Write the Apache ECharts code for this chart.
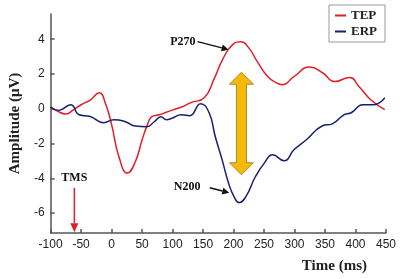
<!DOCTYPE html>
<html>
<head>
<meta charset="utf-8">
<script src="https://cdn.jsdelivr.net/npm/echarts@6/dist/echarts.min.js"></script>
<style>
html,body{margin:0;padding:0;background:#fff;}
#main{width:400px;height:279px;}
</style>
</head>
<body>
<div id="main"></div>
<script>
// TEP (red) curve, time in ms / amplitude in uV
var tepTime=[-100,-88,-75,-62,-50,-35,-20,-10,0,12,26,39,50,58,66,78,90,102,115,130,152,168,183,199,212,225,240,256,270,280,299,325,346,366,390,406,425,448];
var tepVal=[0.1,-0.15,-0.3,-0.05,0.23,0.5,0.92,0.3,-0.9,-2.75,-3.7,-3.05,-1.8,-1.0,-0.45,-0.35,-0.2,-0.05,0.1,0.35,0.63,1.7,2.9,3.7,3.85,3.5,2.65,1.85,1.5,1.38,1.85,2.4,2.07,1.56,1.8,1.27,0.52,-0.05];
// ERP (blue) curve
var erpTime=[-100,-87,-67,-53,-35,-13,4,23,39,58,70,81,90,99,114,128,146,160,170,181,192,201,209,220,236,251,264,283,299,319,346,362,381,393,412,430,448];
var erpVal=[0.1,-0.1,0.23,-0.35,-0.45,-0.8,-0.63,-0.75,-1.0,-1.03,-0.75,-0.46,-0.63,-0.55,-0.35,-0.4,0.29,-0.23,-1.6,-2.9,-4.3,-5.07,-5.4,-5.07,-3.9,-3.1,-2.65,-3.0,-2.36,-1.8,-0.98,-0.87,-0.35,-0.23,0.23,0.23,0.63];
var yTicks=[-6,-4,-2,0,2,4];

function pairs(t,v){
	var out=[];
	for(var i=0;i<t.length;i++){out.push([t[i],v[i]]);}
	return out;
}

var chart=echarts.init(document.getElementById('main'));
var serif='"Liberation Serif","DejaVu Serif",serif';
var sans='"Liberation Sans",Arial,sans-serif';

var option={
	animation:false,
	grid:{left:37,right:14,top:14,bottom:46},
	title:{text:'Time (ms)',right:28,bottom:0,textStyle:{fontFamily:serif,fontWeight:'bold',fontSize:15,color:'#222'}},
	legend:{
		orient:'vertical',right:15,top:5,
		data:['TEP','ERP'],
		icon:'rect',itemWidth:11,itemHeight:2,itemGap:3,
		padding:[4,8,4,6],
		borderColor:'#999',borderWidth:1,
		textStyle:{fontFamily:serif,fontWeight:'bold',fontSize:13,color:'#222'}
	},
	xAxis:{
		type:'value',min:-100,max:450,interval:50,
		axisLine:{onZero:false,lineStyle:{color:'#555',width:1.5}},
		axisTick:{inside:true,length:4,lineStyle:{color:'#555',width:1.5}},
		axisLabel:{fontFamily:sans,fontSize:12,color:'#222',margin:6},
		splitLine:{show:false}
	},
	yAxis:{
		type:'value',min:-7.15,max:5.45,
		name:'Amplitude (\u03bcV)',nameLocation:'middle',nameGap:19,
		nameTextStyle:{fontFamily:serif,fontWeight:'bold',fontSize:15,color:'#222'},
		axisLine:{show:true,onZero:false,lineStyle:{color:'#555',width:1.5}},
		axisTick:{show:true,inside:true,length:4,customValues:yTicks,lineStyle:{color:'#555',width:1.5}},
		axisLabel:{customValues:yTicks,fontFamily:sans,fontSize:12,color:'#222',margin:6},
		splitLine:{show:false}
	},
	series:[
		{name:'TEP',type:'line',data:pairs(tepTime,tepVal),smooth:0.5,showSymbol:false,
			lineStyle:{color:'#e01f26',width:1.5},itemStyle:{color:'#e01f26'}},
		{name:'ERP',type:'line',data:pairs(erpTime,erpVal),smooth:0.5,showSymbol:false,
			lineStyle:{color:'#17206e',width:1.5},itemStyle:{color:'#17206e'}}
	]
};
chart.setOption(option);

function px(t,v){return chart.convertToPixel({gridIndex:0},[t,v]);}

function arrow(a,b,color,w,hl,hw){
	var dx=b[0]-a[0],dy=b[1]-a[1],len=Math.sqrt(dx*dx+dy*dy);
	var ux=dx/len,uy=dy/len;
	var bx=b[0]-ux*hl,by=b[1]-uy*hl;
	return [
		{type:'line',shape:{x1:a[0],y1:a[1],x2:bx,y2:by},style:{stroke:color,lineWidth:w}},
		{type:'polygon',shape:{points:[[b[0],b[1]],[bx-uy*hw,by+ux*hw],[bx+uy*hw,by-ux*hw]]},style:{fill:color}}
	];
}

function doubleArrow(t,v1,v2){
	var p1=px(t,v1),p2=px(t,v2);
	var cx=p1[0],sw=5,hw=12,hl=12;
	var y1=p1[1],y2=p2[1];
	return {type:'polygon',shape:{points:[
		[cx,y1],[cx+hw,y1+hl],[cx+sw,y1+hl],[cx+sw,y2-hl],[cx+hw,y2-hl],
		[cx,y2],[cx-hw,y2-hl],[cx-sw,y2-hl],[cx-sw,y1+hl],[cx-hw,y1+hl]
	]},style:{fill:'#f7b908',stroke:'#a88a2a',lineWidth:1}};
}

function label(t,v,txt){
	var p=px(t,v);
	return {type:'text',x:p[0],y:p[1],style:{text:txt,fill:'#111',font:'bold 12px '+serif,align:'center',verticalAlign:'middle'}};
}

var g=[];
g=g.concat(arrow(px(141,3.86),px(192,3.4),'#111',1.5,7,3.5));
g=g.concat(arrow(px(161,-4.55),px(193,-4.84),'#111',1.5,7,3.5));
g=g.concat(arrow(px(-61,-4.55),px(-61,-7.1),'#e01f26',1.5,9,4));
g.push(doubleArrow(213,2.1,-3.8));
g.push(label(117,3.86,'P270'));
g.push(label(124,-4.5,'N200'));
g.push(label(-61,-3.98,'TMS'));
chart.setOption({graphic:{elements:g}});
</script>
</body>
</html>
